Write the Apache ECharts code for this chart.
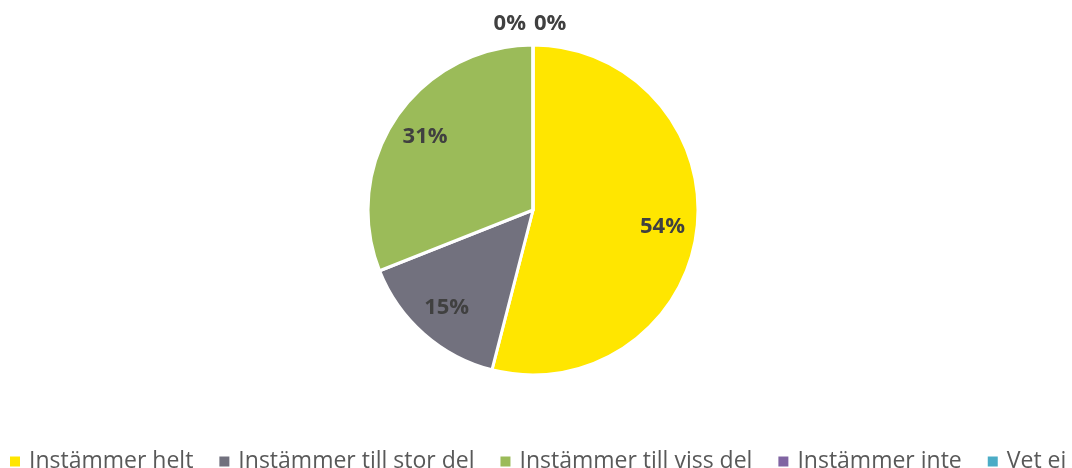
<!DOCTYPE html>
<html>
<head>
<meta charset="utf-8">
<script src="https://cdn.jsdelivr.net/npm/echarts@6/dist/echarts.min.js"></script>
<style>
  html, body { margin: 0; padding: 0; background: #fff; }
  #main { width: 1072px; height: 468px; }
</style>
</head>
<body>
<div id="main"></div>
<script>
// svarsalternativ och andelar (%)
var categories = ['Instämmer helt', 'Instämmer till stor del', 'Instämmer till viss del', 'Instämmer inte', 'Vet ej'];
var values = [54, 15, 31, 0, 0];
var colors = ['#FFE600', '#72717E', '#9BBB59', '#8064A2', '#4BACC6'];

var chart = echarts.init(document.getElementById('main'));

var pieData = [];
var labelData = [];
for (let i = 0; i < categories.length; i++) {
    pieData.push({ name: categories[i], value: values[i], itemStyle: { color: colors[i] } });
    var item = { name: categories[i], value: values[i] };
    if (values[i] === 0) {
        // 0%-etiketterna hamnar utanför, ovanför cirkeln
        item.label = { position: 'outside' };
        item.labelLine = { show: false, length: 21, length2: 0 };
    }
    labelData.push(item);
}

var labelFont = { fontFamily: 'Open Sans', fontWeight: 'bold', fontSize: 22, color: '#404040' };

chart.setOption({
    animation: false,
    legend: {
        data: categories,
        left: 5,
        top: 445,
        width: 1200, // får gå utanför kanten som i originalet
        itemWidth: 10,
        itemHeight: 10,
        itemGap: 26,
        icon: 'rect',
        itemStyle: { borderWidth: 0 },
        textStyle: { fontFamily: 'Open Sans', fontSize: 23, color: '#595959', padding: [0, 0, 0, 4] }
    },
    series: [
        {
            type: 'pie',
            center: [533, 210],
            radius: 165,
            startAngle: 90,
            clockwise: true,
            label: { show: false },
            labelLine: { show: false },
            itemStyle: { borderColor: '#fff', borderWidth: 3 },
            emphasis: { disabled: true },
            data: pieData
        },
        {
            // osynlig ring som bara bär etiketterna lite längre ut
            type: 'pie',
            center: [533, 210],
            radius: [90, 165],
            startAngle: 90,
            clockwise: true,
            silent: true,
            avoidLabelOverlap: false,
            percentPrecision: 0,
            itemStyle: { color: 'rgba(0,0,0,0)', borderWidth: 0 },
            label: Object.assign({ show: true, position: 'inside', formatter: '{d}%' }, labelFont),
            labelLine: { show: false },
            labelLayout: function (p) {
                if (p.dataIndex === 3) return { align: 'right', dx: -2 };
                if (p.dataIndex === 4) return { align: 'left', dx: 6 };
                return {};
            },
            emphasis: { disabled: true },
            data: labelData
        }
    ]
});
</script>
</body>
</html>
